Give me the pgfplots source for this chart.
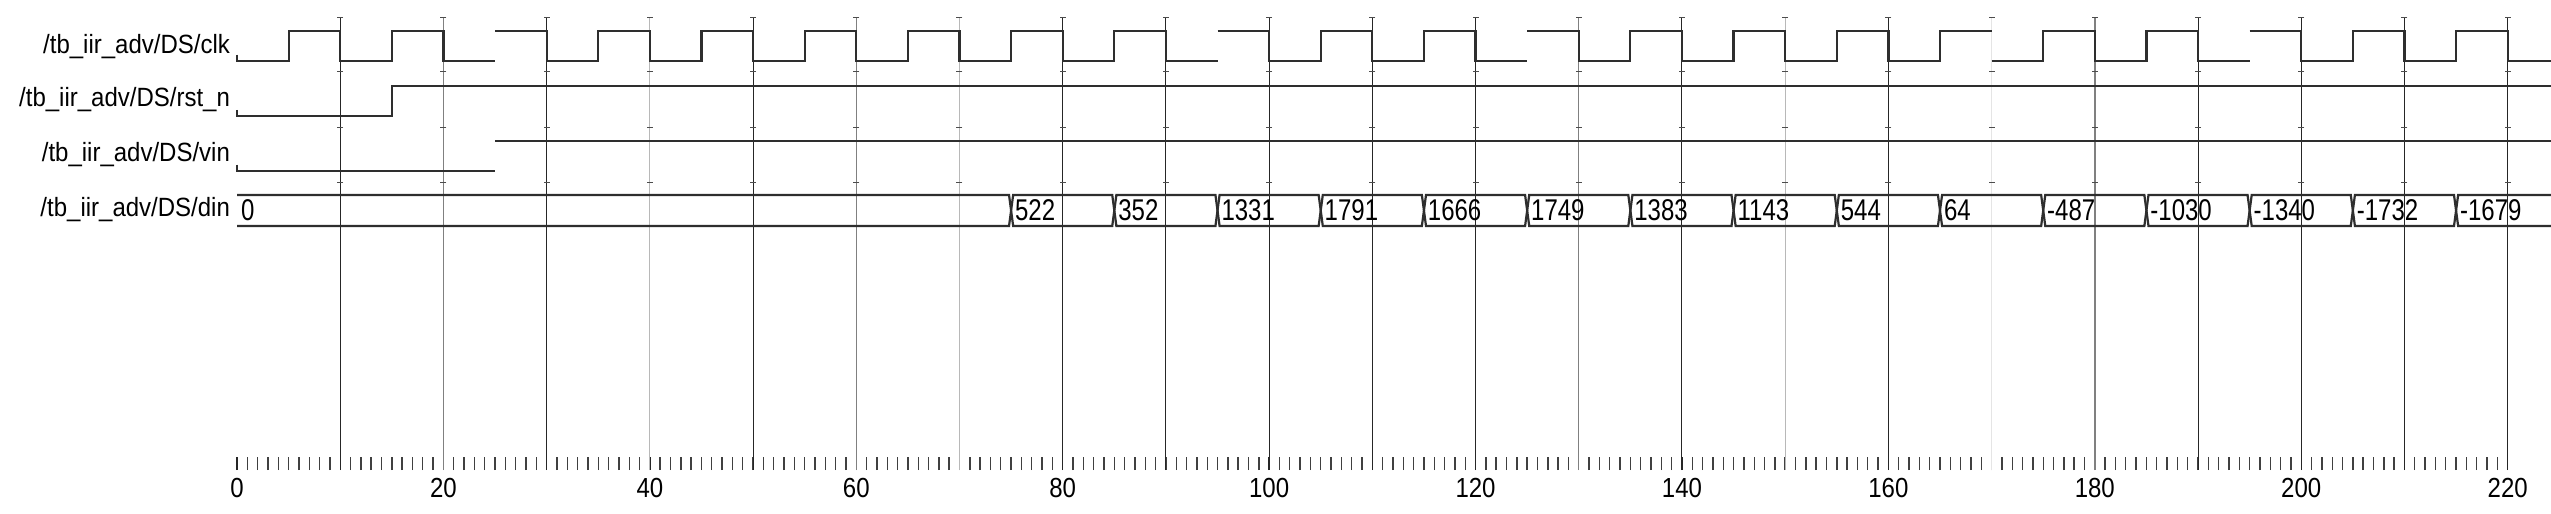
\documentclass[border=0pt]{standalone}
\usepackage{pgfplots}
\pgfplotsset{compat=1.18}
\usepackage{pgfplotstable}
\usepackage{fontspec}
\setmainfont{Liberation Sans}

% logic levels of the single-bit signals (nan = edge not drawn)
\pgfplotstableread{
t v
0 0.2
0 0
5 0
5 1
10 1
10 0
15 0
15 1
20 1
20 0
25 0
25 nan
25 1
30 1
30 0
35 0
35 1
40 1
40 0
45 0
45 1
50 1
50 0
55 0
55 1
60 1
60 0
65 0
65 1
70 1
70 0
75 0
75 1
80 1
80 0
85 0
85 1
90 1
90 0
95 0
95 nan
95 1
100 1
100 0
105 0
105 1
110 1
110 0
115 0
115 1
120 1
120 0
125 0
125 nan
125 1
130 1
130 0
135 0
135 1
140 1
140 0
145 0
145 1
150 1
150 0
155 0
155 1
160 1
160 0
165 0
165 1
170 1
170 nan
170 0
175 0
175 1
180 1
180 0
185 0
185 1
190 1
190 0
195 0
195 nan
195 1
200 1
200 0
205 0
205 1
210 1
210 0
215 0
215 1
220 1
220 0
224.2 0
}\clk

\pgfplotstableread{
t v
0 0.2
0 0
15 0
15 1
224.2 1
}\rst

\pgfplotstableread{
t v
0 0.2
0 0
25 0
25 nan
25 1
224.2 1
}\vin

% bus outline (two strands crossing at each change of value)
\pgfplotstableread{
t a b
0 1 0
74.8 1 0
75.2 0 1
84.8 0 1
85.2 1 0
94.8 1 0
95.2 0 1
104.8 0 1
105.2 1 0
114.8 1 0
115.2 0 1
124.8 0 1
125.2 1 0
134.8 1 0
135.2 0 1
144.8 0 1
145.2 1 0
154.8 1 0
155.2 0 1
164.8 0 1
165.2 1 0
174.8 1 0
175.2 0 1
184.8 0 1
185.2 1 0
194.8 1 0
195.2 0 1
204.8 0 1
205.2 1 0
214.8 1 0
215.2 0 1
224.2 0 1
}\bus

\pgfplotstableread{
t lab
0.35 0
75.35 522
85.35 352
95.35 1331
105.35 1791
115.35 1666
125.35 1749
135.35 1383
145.35 1143
155.35 544
165.35 64
175.35 -487
185.35 -1030
195.35 -1340
205.35 -1732
215.35 -1679
}\din

\definecolor{wave}{gray}{0.18}
\colorlet{gdark}{black!85}
\colorlet{gmid}{black!50}
\colorlet{glight}{black!28}
\colorlet{gfaint}{black!10}

\begin{document}
\begin{tikzpicture}
\begin{axis}[
  scale only axis,
  width=1157pt, height=235pt,
  xmin=0, xmax=224.2,
  ymin=-470, ymax=0,
  axis line style={draw=none},
  unbounded coords=jump,
  xtick={0,20,...,220},
  minor x tick num=19,
  xtick pos=left,
  tick align=inside,
  major tick length=6.5pt,
  minor tick length=6.5pt,
  xtick style={black!85, line width=0.7pt},
  minor x tick style={black!75, line width=0.7pt},
  ytick={-209.5,-154.5,-100,-47},
  yticklabels={/tb\_iir\_adv/DS/din,/tb\_iir\_adv/DS/vin,/tb\_iir\_adv/DS/rst\_n,/tb\_iir\_adv/DS/clk},
  ytick style={draw=none},
  tick label style={font=\fontsize{12}{14}\selectfont},
  yticklabel style={yscale=1.1},
  /pgf/number format/assume math mode=true,
  xticklabel style={yscale=1.15},
  clip=false,
]
% time grid
\addplot[gdark, line width=0.5pt] coordinates {(10,-18) (10,-470)};
\addplot[gmid, line width=0.5pt] coordinates {(20,-18) (20,-470)};
\addplot[gdark, line width=0.5pt] coordinates {(30,-18) (30,-470)};
\addplot[glight, line width=0.5pt] coordinates {(40,-18) (40,-470)};
\addplot[gdark, line width=0.5pt] coordinates {(50,-18) (50,-470)};
\addplot[gmid, line width=0.5pt] coordinates {(60,-18) (60,-470)};
\addplot[glight, line width=0.5pt] coordinates {(70,-18) (70,-470)};
\addplot[gdark, line width=0.5pt] coordinates {(80,-18) (80,-470)};
\addplot[gdark, line width=0.5pt] coordinates {(90,-18) (90,-470)};
\addplot[gdark, line width=0.5pt] coordinates {(100,-18) (100,-470)};
\addplot[gdark, line width=0.5pt] coordinates {(110,-18) (110,-470)};
\addplot[gdark, line width=0.5pt] coordinates {(120,-18) (120,-470)};
\addplot[gmid, line width=0.5pt] coordinates {(130,-18) (130,-470)};
\addplot[gdark, line width=0.5pt] coordinates {(140,-18) (140,-470)};
\addplot[glight, line width=0.5pt] coordinates {(150,-18) (150,-470)};
\addplot[gdark, line width=0.5pt] coordinates {(160,-18) (160,-470)};
\addplot[gfaint, line width=0.5pt] coordinates {(170,-18) (170,-470)};
\addplot[gmid, line width=0.7pt] coordinates {(180,-18) (180,-470)};
\addplot[gdark, line width=0.5pt] coordinates {(190,-18) (190,-470)};
\addplot[gdark, line width=0.5pt] coordinates {(200,-18) (200,-470)};
\addplot[gdark, line width=0.5pt] coordinates {(210,-18) (210,-470)};
\addplot[gdark, line width=0.5pt] coordinates {(220,-18) (220,-470)};
\pgfplotsinvokeforeach{10,20,...,220}{
  \addplot[only marks, mark=-, mark size=1.5pt, black!70, mark options={line width=0.5pt}]
    coordinates {(#1,-18) (#1,-72) (#1,-128) (#1,-183)};
}
% signals
\addplot[wave, line width=1.1pt] table[x=t, y expr=\thisrow{v}*30-60.7] {\clk};
\addplot[wave, line width=1.1pt] table[x=t, y expr=\thisrow{v}*30.3-116] {\rst};
\addplot[wave, line width=1.1pt] table[x=t, y expr=\thisrow{v}*30-170.7] {\vin};
\addplot[wave, line width=1.1pt] table[x=t, y expr=\thisrow{a}*31-226] {\bus};
\addplot[wave, line width=1.1pt] table[x=t, y expr=\thisrow{b}*31-226] {\bus};
\addplot[draw=none, mark=none, nodes near coords, point meta=explicit symbolic,
  every node near coord/.append style={anchor=west, inner sep=0pt, black,
    font=\fontsize{12}{14}\selectfont, yscale=1.25}]
  table[x=t, y expr=-210.5, meta=lab] {\din};
\end{axis}
\pgfresetboundingbox
\path[use as bounding box] ([xshift=-118.5pt,yshift=-21.5pt]current axis.south west) rectangle (current axis.north east);
\end{tikzpicture}
\end{document}
